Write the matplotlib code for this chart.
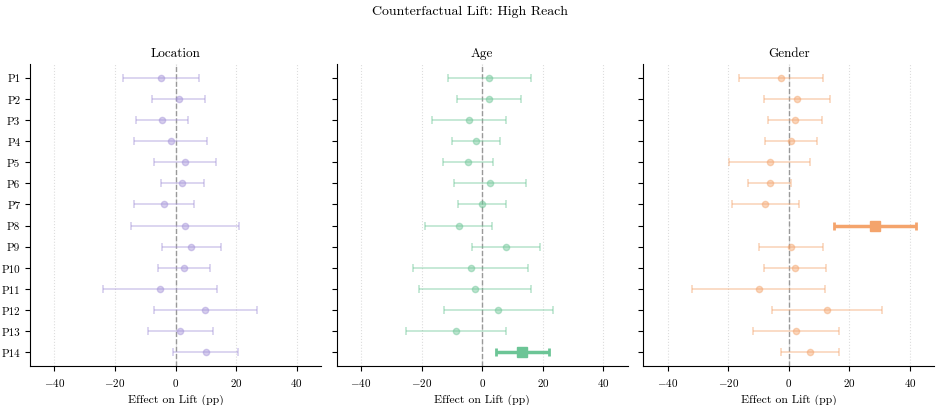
import matplotlib
matplotlib.use("Agg")
import matplotlib.pyplot as plt
import numpy as np

plt.rcParams['font.family'] = ['cmr10', 'DejaVu Serif']
plt.rcParams['mathtext.fontset'] = 'cm'
plt.rcParams['axes.formatter.use_mathtext'] = True
plt.rcParams['axes.unicode_minus'] = True

participants = [f"P{i}" for i in range(1, 15)]
panels = ["Location", "Age", "Gender"]

loc_est = [-4.8, 1.0, -4.5, -1.6, 3.2, 2.3, -3.8, 3.2, 5.2, 2.9, -5.2, 9.8, 1.5, 9.9]
loc_lo = [-17.2, -7.8, -13.1, -13.8, -7.1, -4.7, -13.7, -14.6, -4.6, -5.7, -23.8, -7.1, -9.2, -0.9]
loc_hi = [7.8, 9.8, 4.0, 10.5, 13.5, 9.5, 6.0, 21.0, 14.9, 11.4, 13.6, 26.8, 12.3, 20.7]

age_est = [2.3, 2.3, -4.4, -2.2, -4.7, 2.6, 0.0, -7.8, 7.7, -3.7, -2.3, 5.3, -8.7, 13.2]
age_lo = [-11.4, -8.3, -16.7, -10.1, -12.8, -9.2, -7.9, -18.8, -3.5, -22.8, -20.8, -12.5, -25.1, 4.5]
age_hi = [16.0, 12.9, 7.8, 5.9, 3.4, 14.6, 7.9, 3.1, 19.0, 15.2, 16.0, 23.2, 7.9, 21.9]

gen_est = [-2.5, 2.6, 2.0, 0.8, -6.3, -6.3, -7.7, 28.5, 0.7, 2.0, -9.9, 12.5, 2.3, 6.9]
gen_lo = [-16.5, -8.1, -6.9, -7.9, -19.7, -13.3, -18.8, 15.0, -9.8, -8.3, -31.8, -5.6, -11.8, -2.6]
gen_hi = [11.4, 13.5, 11.0, 9.4, 7.0, 0.8, 3.4, 41.9, 11.2, 12.3, 12.0, 30.7, 16.4, 16.6]

colors = ["#a493d8", "#6cc596", "#f4a46c"]
data = [(loc_est, loc_lo, loc_hi), (age_est, age_lo, age_hi), (gen_est, gen_lo, gen_hi)]

fig = plt.figure(figsize=(9.41, 4.06), dpi=100)
lefts = [30 / 941, 336.7 / 941, 643.3 / 941]
W, H = 291 / 941, 0.744
bottom = 1 - 367 / 406

y = np.arange(len(participants))
for k, (name, (est, lo, hi), col) in enumerate(zip(panels, data, colors)):
    ax = fig.add_axes([lefts[k], bottom, W, H])
    est = np.array(est); lo = np.array(lo); hi = np.array(hi)
    sig = (lo > 0) | (hi < 0)
    for i in range(len(est)):
        err = [[est[i] - lo[i]], [hi[i] - est[i]]]
        if sig[i]:
            ax.errorbar(est[i], y[i], xerr=err, fmt='s', color=col, ms=7,
                        elinewidth=2.5, capsize=3, capthick=2, zorder=4)
        else:
            ax.errorbar(est[i], y[i], xerr=err, fmt='o', color=col, ms=4.5,
                        elinewidth=1.2, capsize=3, capthick=1.2, alpha=0.45, zorder=3)
    ax.axvline(0, color='#999999', ls='--', lw=1, zorder=2)
    ax.set_xlim(-48, 48)
    ax.set_ylim(len(participants) - 0.35, -0.65)
    ax.set_xticks([-40, -20, 0, 20, 40])
    ax.set_yticks(y)
    if k == 0:
        ax.set_yticklabels(participants)
    else:
        ax.set_yticklabels([])
    ax.grid(axis='x', color='#dddddd', ls=':', lw=0.8, zorder=0)
    ax.set_axisbelow(True)
    for s in ['top', 'right']:
        ax.spines[s].set_visible(False)
    ax.tick_params(labelsize=8, length=3.5)
    ax.set_title(name, fontsize=9.5, pad=6)
    ax.set_xlabel("Effect on Lift (pp)", fontsize=8.5)

fig.suptitle("Counterfactual Lift: High Reach", fontsize=10, y=0.985)
fig.savefig("out.png", dpi=100)
